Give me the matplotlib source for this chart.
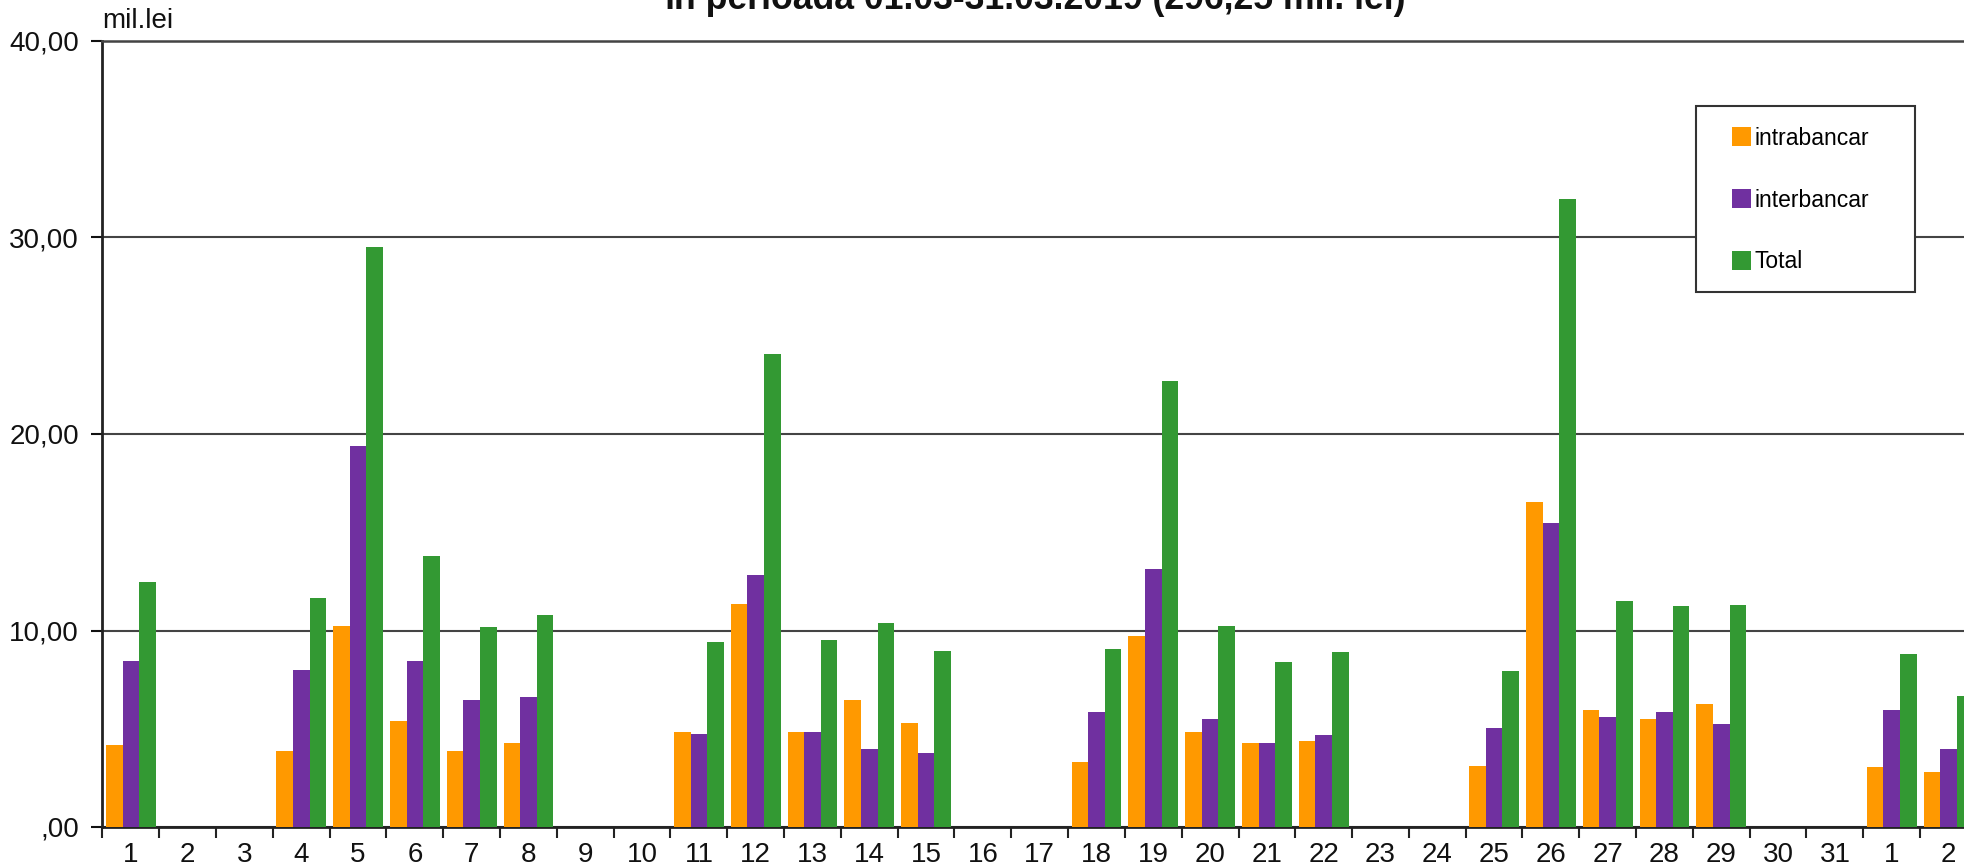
import matplotlib
matplotlib.use("Agg")
import matplotlib.pyplot as plt
from matplotlib.patches import Rectangle
import numpy as np

plt.rcParams['font.family'] = ['Liberation Sans', 'DejaVu Sans']

# ---- data ----
days = ['1', '2', '3', '4', '5', '6', '7', '8', '9', '10', '11', '12', '13', '14', '15', '16',
        '17', '18', '19', '20', '21', '22', '23', '24', '25', '26', '27', '28', '29', '30', '31',
        '1', '2']
intrabancar = [4.16, 0, 0, 3.85, 10.21, 5.41, 3.85, 4.28, 0, 0, 4.83, 11.36, 4.83, 6.48, 5.29, 0,
               0, 3.33, 9.74, 4.83, 4.27, 4.40, 0, 0, 3.08, 16.56, 5.97, 5.51, 6.25, 0, 0,
               3.03, 2.80]
interbancar = [8.46, 0, 0, 7.97, 19.41, 8.46, 6.48, 6.60, 0, 0, 4.73, 12.80, 4.86, 3.98, 3.79, 0,
               0, 5.85, 13.11, 5.49, 4.27, 4.66, 0, 0, 5.03, 15.49, 5.61, 5.87, 5.23, 0, 0,
               5.93, 3.98]
total = [12.46, 0, 0, 11.66, 29.50, 13.77, 10.16, 10.78, 0, 0, 9.40, 24.05, 9.54, 10.36, 8.98, 0,
         0, 9.08, 22.72, 10.22, 8.38, 8.89, 0, 0, 7.96, 31.95, 11.48, 11.23, 11.29, 0, 0,
         8.79, 6.67]
series_names = ['intrabancar', 'interbancar', 'Total']
yticks = [0, 10, 20, 30, 40]
ytick_labels = [',00', '10,00', '20,00', '30,00', '40,00']
title = 'în perioada 01.03-31.03.2019 (296,25 mil. lei)'
unit_label = 'mil.lei'

colors = ['#FF9900', '#7030A0', '#339933']

W, H = 1965, 865
fig = plt.figure(figsize=(W / 100, H / 100), dpi=100)
fig.patch.set_facecolor('white')

n = len(days)
cat_w = 56.8
left_px, zero_px, top_px = 102.5, 827, 41
ax = fig.add_axes([left_px / W, (H - zero_px) / H, n * cat_w / W, (zero_px - top_px) / H])

x = np.arange(n)
bw = 0.293
bars = []
for i, (vals, c, name) in enumerate(zip([intrabancar, interbancar, total], colors, series_names)):
    b = ax.bar(x + (i - 1) * bw, vals, width=bw, color=c, label=name, zorder=3, linewidth=0)
    bars.append(b)

ax.set_xlim(-0.5, n - 0.5)
ax.set_ylim(0, 40)
ax.set_yticks(yticks)
ax.set_yticklabels(ytick_labels)
ax.set_xticks(x)
ax.set_xticklabels(days)
ax.set_xticks(np.arange(n + 1) - 0.5, minor=True)
ax.tick_params(axis='x', which='major', length=0, pad=11, labelsize=20, colors='#111111')
ax.tick_params(axis='x', which='minor', length=8, width=1.5, direction='out', color='#222222')
ax.tick_params(axis='y', which='major', length=8, width=1.5, pad=9, labelsize=20,
               colors='#111111', direction='out')

ax.grid(axis='y', color='#444444', linewidth=1.5, zorder=1)
ax.set_axisbelow(True)
ax.spines['right'].set_visible(False)
ax.spines['top'].set_color('#444444')
ax.spines['top'].set_linewidth(1.8)
ax.spines['left'].set_linewidth(2)
ax.spines['left'].set_color('#222222')
ax.spines['bottom'].set_linewidth(2)
ax.spines['bottom'].set_color('#222222')

# unit label and (cropped) title
fig.text(left_px / W, 1 - 21 / H, unit_label, fontsize=20, va='center', ha='left', color='#111111')
fig.text(1035 / W, 1 - 9 / H, title, fontsize=25.7, fontweight='bold', va='baseline', ha='center',
         color='#111111')

# legend box
box = Rectangle((1696 / W, 1 - 292 / H), (1915 - 1696) / W, (292 - 106) / H,
                transform=fig.transFigure, facecolor='white', edgecolor='#333333',
                linewidth=1.5, zorder=4)
fig.patches.append(box)
leg = fig.legend(handles=bars, labels=series_names, loc='center left',
                 bbox_to_anchor=(1732 / W, 1 - 200 / H), frameon=False, fontsize=16.5,
                 handlelength=0.85, handleheight=0.85, handletextpad=0.15,
                 labelspacing=1.7, borderpad=0, borderaxespad=0)
leg.set_zorder(5)

fig.savefig('out.png', dpi=100)
